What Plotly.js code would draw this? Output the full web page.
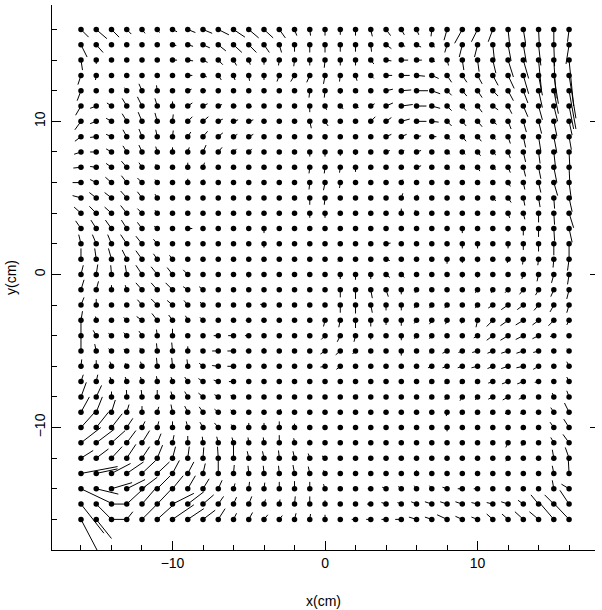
<!DOCTYPE html>
<html>
<head>
<meta charset="utf-8">
<script src="https://cdn.plot.ly/plotly-3.0.1.min.js"></script>
<style>
body{margin:0;background:#fff;}
#chart{width:602px;height:610px;}
</style>
</head>
<body>
<div id="chart"></div>
<script>
// ================= DATA =================
// grid positions (cm)
let gridX = [-16,-15,-14,-13,-12,-11,-10,-9,-8,-7,-6,-5,-4,-3,-2,-1,0,1,2,3,4,5,6,7,8,9,10,11,12,13,14,15,16];
let gridY = [16,15,14,13,12,11,10,9,8,7,6,5,4,3,2,1,0,-1,-2,-3,-4,-5,-6,-7,-8,-9,-10,-11,-12,-13,-14,-15,-16];

// vector x component, one row per gridY value, columns follow gridX
let vecU = [
[0.5,0.7,0.5,0.3,0.2,0.15,0.3,0.5,0.6,0.7,0.75,0.65,0.6,0.4,0.15,0.05,0,0,0,0.1,0.3,0.2,0.15,-0.05,-0.2,-0.5,-0.4,-0.3,0.1,0.15,0.05,0,-0.1],
[0.4,0.45,0.1,0,0,0,0.25,0.35,0.45,0.5,0.55,0.5,0.35,0.15,0,0,0,0,0,0.05,0.35,0.25,0.3,0.2,-0.15,-0.2,-0.2,0.1,0.2,0.2,0.15,0.05,-0.2],
[0.1,0,0,0,0,0,0.3,0.35,0.3,0.3,0.2,0.1,0,-0.05,-0.05,0,-0.05,0,0,0.2,0.35,0.45,0.35,0.2,0.1,0.1,0.1,0.2,0.35,0.35,0.2,0.15,0.3],
[-0.2,-0.05,0,0,0,0,0,0.3,0.25,0.2,0.1,0.05,0,-0.15,-0.25,-0.2,-0.1,-0.05,0.1,0.2,0.4,0.55,0.55,0.45,0.3,0.3,0.3,0.35,0.4,0.35,0.25,0.3,0.45],
[-0.25,0,-0.1,-0.15,-0.2,-0.05,0.1,0.25,0.2,0.1,0.1,0.1,0,0,0,-0.05,-0.05,0,0.15,0.15,0.45,0.65,0.75,0.55,0.3,0.3,0.3,0.35,0.35,0.3,0.25,0.3,0.45],
[-0.35,-0.4,-0.3,-0.3,-0.3,-0.15,0,0.3,0.3,0.25,0.2,0.2,0,0,0,0,0.1,0.2,0.2,0.25,0.45,0.75,0.65,0.55,0.3,0.25,0.3,0.35,0.25,0.3,0.25,0.25,0.3],
[-0.4,-0.4,-0.35,-0.3,-0.25,-0.15,0.05,0.3,0.35,0.3,0.3,0.3,0,0,0,0.1,0.2,0.05,0,0.3,0.35,0.55,0.65,0.45,0.3,0.25,0.3,0.25,0.2,0.2,0.2,0.2,0.2],
[-0.4,-0.4,-0.35,-0.25,-0.2,-0.1,0.05,0.2,0.3,0.3,0.25,0.3,0,0,0,0.05,0.05,0,0,0,0.35,0.35,0.3,0.3,0.2,0.25,0.25,0.2,0.15,0.15,0.15,0.2,0.15],
[-0.45,-0.4,-0.35,-0.25,-0.2,-0.1,0,0.1,0.2,0.25,0.2,0.2,0,0,0,0,0,0,0,0,0.25,0.2,0.3,0,0.2,0.2,0.2,0.2,0.15,0.15,0.1,0.1,0.05],
[-0.5,-0.4,-0.35,-0.35,-0.2,-0.1,0,0,0.1,0.05,0,0,0,0,0,-0.05,-0.05,-0.05,0,0,0,0.05,0.3,0,0.15,0.15,0.15,0.2,0.15,0.15,0.15,0.2,0.05],
[-0.55,-0.4,-0.4,-0.35,-0.3,-0.15,0,0,0.05,0,0,0,0,0,0,-0.05,-0.1,-0.05,0,0,0,0.1,0.05,0,0,0.05,0.1,0.15,0.15,0.1,0.15,0.25,0.15],
[-0.55,-0.45,-0.45,-0.4,-0.3,-0.15,0,0,0,0,0,0,0,0,0,0,-0.05,-0.05,0,0,0,0.1,0.05,0,0,0,0,0.2,0.2,0.1,0.1,0.05,0.2],
[-0.45,-0.45,-0.45,-0.4,-0.3,-0.15,0,0,0,0,0,0,0,0,0,0,0,0,0,0,0,0,-0.1,0,0,0,0,0.1,0.1,0.1,0,0.05,0.3],
[-0.35,-0.35,-0.4,-0.35,-0.3,-0.2,0,0.3,0,0,0,0,0,0,0,0,0,0,0,0,0,0,0,0,0,0,0,0,0,0,0,0.05,0.2],
[-0.15,-0.25,-0.25,-0.4,-0.4,-0.25,0,0,0,0,0,0,0,0,0,0,0,0,0,0,0.3,0,0,0,0,0,0,0,0,0,0,0,0],
[0,-0.1,-0.2,-0.3,-0.4,-0.25,-0.2,0,0,0,0,0,-0.1,0,0,0,0,-0.15,0,0,0.25,0.15,0,0,0,0,0,0,-0.05,-0.05,-0.05,-0.05,-0.1],
[0.15,0.1,-0.05,-0.1,-0.4,-0.4,-0.35,-0.3,0,0,0,0,0,0,0,0,0,0,0,0,0.25,0.2,0,0,0,0,0,0,0,-0.1,-0.1,-0.15,-0.1],
[0.2,0.15,0,-0.1,-0.4,-0.4,-0.45,-0.3,-0.25,0,0,0,0,0,0,0,0.05,0,0,0.1,0.15,0,-0.1,0,0,0,-0.15,-0.1,-0.2,-0.25,-0.2,-0.2,-0.15],
[0.2,0,0,0,-0.3,-0.4,-0.35,-0.25,-0.2,0,0,0,-0.25,0,0,0,0,0,0,0.1,0,0,-0.15,-0.15,-0.15,0,-0.15,-0.3,-0.45,-0.4,-0.3,-0.25,-0.15],
[0.1,-0.05,0,-0.2,-0.35,-0.35,-0.25,-0.15,-0.2,0,0,-0.2,-0.15,0,0,0,-0.1,-0.1,0,0,0,0,-0.15,-0.15,-0.1,-0.05,-0.1,-0.4,-0.5,-0.5,-0.4,-0.35,-0.15],
[0,-0.2,-0.2,-0.2,-0.2,-0.05,0,0,0,-0.3,-0.35,-0.25,0,0,0,-0.15,-0.25,-0.2,-0.1,0,0,0,-0.15,-0.15,-0.1,-0.1,-0.25,-0.4,-0.5,-0.5,-0.4,-0.25,-0.15],
[0,-0.1,-0.2,-0.2,-0.15,-0.05,-0.05,0,-0.15,-0.4,-0.4,-0.2,0,0,0,0,-0.3,-0.3,-0.2,0,0,0,-0.1,-0.15,-0.3,-0.25,-0.35,-0.35,-0.45,-0.45,-0.35,-0.15,-0.15],
[0.05,0,-0.1,-0.1,-0.1,-0.05,-0.05,-0.05,-0.25,-0.4,-0.4,0,0,0,0,0,-0.3,-0.25,0,0,0,0,-0.15,-0.25,-0.3,-0.3,-0.4,-0.35,-0.45,-0.45,-0.35,0,-0.15],
[0.15,0.1,-0.1,-0.1,-0.1,-0.05,-0.1,-0.2,-0.3,-0.3,-0.3,0,0,0,0,0,0,0,0,0,0,0,0,-0.15,-0.15,-0.15,-0.15,-0.3,-0.4,-0.4,-0.25,0,-0.15],
[0.35,0.35,0,-0.02,-0.05,0,-0.1,-0.2,-0.3,-0.25,-0.2,0,0,0,0,0,0,0,0.1,0,0,0,0,-0.15,-0.15,-0.15,-0.15,-0.3,-0.35,-0.3,0,-0.1,-0.15],
[0.55,0.4,0.25,0.15,0,0.1,-0.1,-0.2,-0.25,-0.25,-0.2,0,0,0.1,0,0,0,0,0,0,0,0,0,-0.05,-0.05,-0.1,-0.1,-0.15,-0.2,-0.2,0,-0.2,-0.3],
[0.9,0.8,0.7,0.4,0.2,0.1,0,-0.1,-0.2,-0.25,-0.15,0,0,0,0,0,0,0,0,0,0,0,0,0,0,0,-0.05,-0.1,-0.1,-0.1,0,-0.25,-0.35],
[1.3,1.2,0.9,0.6,0.5,0.25,0.1,0,-0.05,-0.1,-0.1,-0.05,-0.05,0,-0.05,0,0,0,0,0,0,0,0,0,0,0,0,0,-0.15,-0.1,0,-0.2,-0.4],
[0.8,0.8,0.7,0.6,0.5,0.35,0.2,0.1,0.05,-0.05,0,-0.1,-0.1,-0.05,-0.1,-0.1,-0.2,0,0,0,0,0,0,0,0,0,0,-0.05,-0.15,0,0,-0.1,-0.25],
[2.4,1.4,1.25,1.1,0.9,0.8,0.45,0.4,0.15,0,0.05,-0.05,-0.05,-0.05,-0.1,-0.1,-0.1,0,0,0,0,0,0,0,0,0,0,0,0,0,0,-0.1,-0.05],
[2.0,1.45,1.35,1.2,1.0,0.85,0.7,0.5,0.4,0.25,0.1,0.05,0.05,0,0,0,-0.1,0,0,-0.2,-0.25,-0.2,-0.15,-0.15,-0.3,-0.3,-0.25,0,0,0,-0.05,-0.1,-0.5],
[1.5,1.0,1.0,1.25,1.0,1.0,1.4,1.05,0.7,0.35,0.2,0.2,0.1,0.05,0.05,0,0,0,-0.1,-0.25,-0.3,-0.25,-0.35,-0.45,-0.45,-0.45,-0.4,-0.4,-0.45,-0.35,-0.5,-0.6,-0.6],
[1.05,1.0,0.9,0.4,1.0,1.0,1.4,1.05,0.8,0.45,0.2,0.25,0.25,0.2,0.1,0.05,0,0,-0.25,-0.3,-0.3,-0.4,-0.5,-0.45,-0.65,-0.45,-0.4,-0.4,-0.4,-0.55,-0.6,-0.9,-0.95]
];

// vector y component, same layout
let vecV = [
[-0.5,-0.6,-0.5,-0.3,-0.25,-0.2,-0.15,-0.2,-0.25,-0.35,-0.5,-0.55,-0.55,-0.55,-0.4,-0.4,-0.4,-0.35,-0.4,-0.45,-0.4,-0.35,-0.35,-0.45,-0.7,-0.9,-0.8,-0.8,-0.95,-0.9,-1.0,-0.95,-0.8],
[-0.8,-0.5,-0.05,0,0,0,-0.05,-0.1,-0.2,-0.4,-0.5,-0.5,-0.5,-0.5,-0.45,-0.5,-0.5,-0.45,-0.45,-0.45,-0.25,-0.1,-0.15,-0.15,-0.5,-0.8,-0.8,-0.95,-1.05,-1.15,-1.35,-1.4,-1.25],
[-0.65,-0.25,0,0,0,0,0,-0.05,-0.15,-0.3,-0.35,-0.3,-0.3,-0.35,-0.4,-0.35,-0.5,-0.35,-0.35,-0.25,-0.05,0,0,-0.1,-0.35,-0.65,-0.75,-0.85,-1.1,-1.2,-2.1,-2.5,-3.0],
[-0.6,-0.3,0,0,0,0,0,0,-0.1,-0.3,-0.3,-0.35,-0.3,-0.4,-0.4,-0.45,-0.55,-0.4,-0.35,-0.2,0,0,-0.05,-0.2,-0.45,-0.45,-0.55,-0.65,-0.85,-1.2,-1.3,-1.85,-2.8],
[-0.65,0,0.05,0.2,0.45,0.35,0.1,0.1,0,0,0,-0.1,0,0,0,-0.45,-0.45,-0.2,-0.15,0,0.1,0.05,0,-0.2,-0.3,-0.35,-0.45,-0.35,-0.65,-0.8,-1.1,-1.5,-2.5],
[-0.6,-0.15,0.2,0.5,0.6,0.5,0.3,0.2,0.15,0.1,0,-0.05,0,0,-0.15,-0.4,-0.25,-0.2,-0.1,0.15,0.2,0.1,0,-0.15,-0.3,-0.3,-0.4,-0.25,-0.5,-0.7,-0.9,-1.0,-1.5],
[-0.55,-0.15,0.2,0.5,0.6,0.55,0.45,0.3,0.3,0.15,0.1,0.1,0,0,0,-0.45,-0.3,-0.1,0,0.3,0.25,0.15,0,-0.05,-0.3,-0.3,-0.35,-0.2,-0.5,-0.7,-0.8,-0.95,-0.9],
[-0.3,-0.05,0.15,0.45,0.5,0.45,0.4,0.3,0.35,0.25,0.15,0.15,0,0,0,-0.15,-0.2,0,0,0,0.15,0.15,0.05,0,-0.2,-0.3,-0.3,-0.2,-0.45,-0.7,-0.95,-1.05,-0.85],
[-0.15,0,0.2,0.4,0.45,0.35,0.3,0.3,0.45,0.3,0.2,0.2,0,0,0,-0.3,-0.3,-0.25,-0.2,0,0.1,0.1,0.1,0,-0.15,-0.15,-0.25,-0.2,-0.4,-0.65,-0.75,-0.9,-1.0],
[-0.05,0.05,0.25,0.4,0.3,0.2,0.05,0.3,0.3,0.05,0,0,0,0,0,-0.4,-0.4,-0.35,-0.3,0,0,0,0.1,0,-0.15,-0.15,-0.25,-0.15,-0.35,-0.6,-0.75,-1.0,-1.05],
[0,0.2,0.35,0.45,0.3,0.2,0.05,0.25,0.2,0,0,0,0,0,0,-0.45,-0.5,-0.35,0,0,0,0.2,0.1,0,0,-0.1,-0.15,-0.1,-0.25,-0.45,-0.65,-0.85,-1.1],
[0.15,0.35,0.35,0.45,0.4,0.25,0,0,0,0,0,0,0,0,-0.15,-0.45,-0.45,-0.1,0,0,0,0.3,0.2,0,0,0,0,-0.2,-0.3,-0.5,-0.6,-0.7,-0.9],
[0.4,0.45,0.4,0.5,0.3,0.2,0,0,0,0,0,0,0,0,-0.1,-0.3,-0.3,0,0,0,0,0.3,0.2,0,0,0,0,-0.05,-0.3,-0.4,-0.6,-0.75,-0.95],
[0.5,0.55,0.55,0.55,0.4,0.15,0,0,0,0,0,0,-0.3,0,0,0,0,0,0,0,0,0,0,0,0,-0.3,-0.1,-0.1,-0.2,-0.45,-0.55,-0.8,-0.9],
[0.6,0.6,0.6,0.6,0.5,0.3,0,0,0,0,0,0,-0.25,0,0,0,0,0,0,0,0.05,0,0,0,-0.15,-0.3,-0.3,0,-0.3,-0.4,-0.5,-0.75,-1.0],
[0.7,0.7,0.7,0.6,0.55,0.35,0.25,0,0,0,0,0,-0.15,0,0,0,0,-0.15,0,0,-0.1,0,0,0,-0.3,-0.25,-0.2,0,-0.25,-0.35,-0.4,-0.55,-0.75],
[0.6,0.65,0.6,0.6,0.6,0.5,0.45,0.3,0,0,0,-0.2,0,0,0,0,0,-0.3,-0.35,-0.3,-0.2,-0.2,0,0,0,-0.2,-0.2,0,0,-0.3,-0.45,-0.55,-0.65],
[0.65,0.55,0.3,0.3,0.45,0.45,0.45,0.2,0.2,0,0,0,0,0,0,0,-0.15,-0.5,-0.6,-0.55,-0.45,-0.3,-0.2,0,0,0,-0.2,-0.2,-0.2,-0.3,-0.35,-0.45,-0.6],
[0.5,0.4,0,0,0.35,0.4,0.3,0.3,0.2,0,0,0,0.05,0,0,0,0,-0.5,-0.55,-0.5,-0.35,-0.35,-0.2,-0.2,-0.2,0,-0.2,-0.2,-0.3,-0.3,-0.35,-0.45,-0.5],
[0.6,0.25,0,0.2,0.25,0.45,0.35,0.3,0.2,0,0,0,0,0,0,0,-0.4,-0.45,-0.5,-0.4,-0.3,-0.35,-0.2,-0.25,-0.25,-0.2,-0.45,-0.4,-0.35,-0.3,-0.3,-0.35,-0.3],
[0.95,0.35,0.15,0.2,0.3,0.4,0.45,0.1,0,0,0,0,0,0,0,0.05,-0.25,-0.4,-0.4,-0.25,0,-0.3,-0.2,-0.2,-0.15,-0.1,-0.15,-0.3,-0.3,-0.25,-0.2,-0.05,0],
[1.0,0.45,0.15,0.1,0.2,0.5,0.55,0.3,0.1,0,0,0,0.2,0,0,0,-0.2,-0.25,-0.2,0,0,-0.3,-0.1,-0.15,-0.15,-0.1,-0.1,-0.15,-0.15,-0.15,-0.1,0,0.15],
[0.45,0.4,0.3,0.2,0.3,0.55,0.55,0.45,0.2,0.05,0,0.1,0,0,0,0,-0.05,-0.2,-0.05,0,0,0,0,-0.1,-0.1,-0.1,-0.1,-0.15,-0.15,-0.1,-0.2,0,0.3],
[0.45,0.45,0.3,0.3,0.3,0.35,0.3,0.3,0.2,0.1,0,0,0,0,0,0,0,0,0,0,0,0,0,-0.1,-0.15,-0.15,-0.1,-0.1,-0.15,-0.15,-0.05,0,0.3],
[0.95,0.75,0.35,0.45,0.45,0.45,0.35,0.35,0.25,0.15,0.1,0,0,0,0,0,0,0,0.15,0,0,0,0,-0.15,-0.2,-0.25,-0.2,-0.15,-0.2,-0.15,0,0.25,0.4],
[1.0,1.0,0.8,0.5,0.4,0.35,0.5,0.4,0.35,0.2,0.15,0,0,0.2,0,0,0,0,0,0,0,0,0,-0.15,-0.25,-0.15,-0.15,-0.1,-0.1,-0.1,0,0.3,0.6],
[1.0,1.0,0.9,0.6,0.4,0.4,0.4,0.4,0.35,0.3,0.2,0.3,0.3,0.4,0.25,0,0,0,0,0,0,0,0,0,-0.25,-0.15,-0.15,-0.15,-0.15,-0.15,0,0.35,0.55],
[1.0,0.9,0.8,0.8,0.8,0.6,0.5,0.45,0.4,0.4,0.35,0.35,0.35,0.5,0.3,0.2,0,0,0,0,0,0,0,0,0,0,0,0,-0.3,-0.2,0,0.35,0.55],
[0.5,0.6,0.75,0.9,0.75,0.85,0.75,0.75,0.7,0.75,0.85,0.45,0.45,0.5,0.45,0.3,0.15,0,0,0,0,0,0,0,0,0,0,-0.1,-0.2,0,0,0.55,0.7],
[0.45,0.3,0.65,0.75,0.85,0.75,0.85,0.75,0.65,0.85,0.55,0.5,0.5,0.5,0.55,0.45,0.2,0,0,0,0,0,0.2,0,0,0,0,0,0,0,0,0.5,0.9],
[-0.95,-0.35,0.4,0.6,0.75,0.85,0.85,0.85,0.65,0.55,0.35,0.45,0.4,0.45,0.5,0.45,0.3,0,0,0,0.1,0.15,0.2,0.2,0.1,0,0,0,0,0,0.05,0.55,0.3],
[-1.9,-1.0,0,1.15,1.15,1.05,0.7,0.8,0.6,0.5,0.45,0.5,0.3,0.3,0.5,0.5,0.25,0,0,0,0.1,0.1,0.15,0.15,0.15,0.15,0.1,0.1,0.15,0.25,0.6,0.6,0.9],
[-2.0,-1.25,0,0.5,1.0,0.9,0.95,0.7,0.6,0.7,0.4,0.45,0.3,0.25,0.4,0.35,0.3,0,0,0,0,0,0.15,0.15,0.3,0.2,0.15,0.35,0.35,0.5,0.5,1.05,1.0]
];

// axis ticks
let majorTicks = [-10, 0, 10];
let axisLabels = {x: "x(cm)", y: "y(cm)"};

// ================= CHECK =================
[vecU, vecV].forEach((tbl, k) => {
if(tbl.length !== gridY.length) throw new Error("rows " + k + ": " + tbl.length);
tbl.forEach((row, i) => {
if(row.length !== gridX.length) throw new Error("row " + k + "/" + i + " has " + row.length);
});
});

// ================= BUILD =================
let dotX = [], dotY = [];
let segX = [], segY = [];

gridY.forEach((y, i) => {
gridX.forEach((x, j) => {
dotX.push(x);
dotY.push(y);
let u = vecU[i][j], v = vecV[i][j];
if(u !== 0 || v !== 0){
segX.push(x, x + u, null);
segY.push(y, y + v, null);
}
});
});

let font = {family: "Liberation Sans, Arial, sans-serif", size: 14, color: "#000"};

let axisBase = {
showgrid: false,
zeroline: false,
showline: true,
linecolor: "#000",
linewidth: 1,
mirror: false,
ticks: "inside",
ticklen: 9,
tickwidth: 1,
tickcolor: "#000",
tickmode: "array",
tickvals: majorTicks,
ticktext: majorTicks.map(t => t < 0 ? "\u2212" + Math.abs(t) : String(t)),
tickfont: font,
minor: {ticks: "inside", ticklen: 5, tickwidth: 1, tickcolor: "#000", dtick: 2, tick0: 0, showgrid: false}
};

let layout = {
width: 602,
height: 610,
margin: {l: 52, r: 7, t: 5, b: 60},
paper_bgcolor: "#fff",
plot_bgcolor: "#fff",
showlegend: false,
font: font,
xaxis: Object.assign({}, axisBase, {
range: [-17.9, 17.7],
title: {text: axisLabels.x, font: font, standoff: 26}
}),
yaxis: Object.assign({}, axisBase, {
range: [-18.0, 17.6],
tickangle: -90,
title: {text: axisLabels.y, font: font, standoff: 12}
}),
// short ticks on the right edge, no line
yaxis2: {
overlaying: "y",
side: "right",
matches: "y",
showline: false,
showgrid: false,
zeroline: false,
ticks: "inside",
ticklen: 5,
tickwidth: 1,
tickcolor: "#000",
tickmode: "array",
tickvals: majorTicks,
showticklabels: false
}
};

Plotly.newPlot("chart", [
{
x: segX, y: segY,
type: "scatter", mode: "lines",
line: {color: "#000", width: 1},
hoverinfo: "skip"
},
{
x: dotX, y: dotY,
type: "scatter", mode: "markers",
marker: {color: "#000", size: 5.5},
hoverinfo: "skip"
},
{
x: [], y: [],
yaxis: "y2",
type: "scatter", mode: "markers",
hoverinfo: "skip"
}
], layout, {staticPlot: true});
</script>
</body>
</html>
